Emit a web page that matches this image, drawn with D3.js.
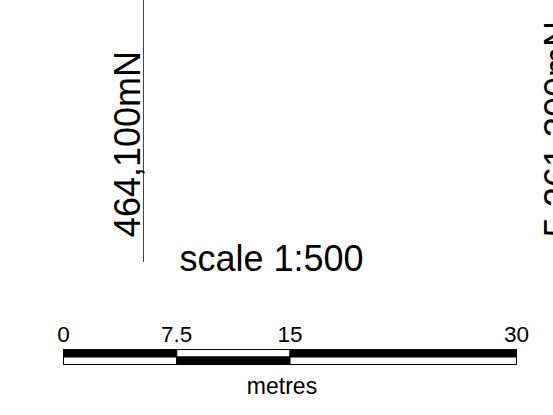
<!DOCTYPE html>
<html>
<head>
<meta charset="utf-8">
<script src="https://cdn.jsdelivr.net/npm/d3@7"></script>
<style>
  body { margin: 0; background: #fff; }
  svg text { font-family: "Liberation Sans", Arial, sans-serif; fill: #000; }
</style>
</head>
<body>
<div id="map"></div>
<script>
// scale bar breaks (metres) and labels
var breaks = [0, 7.5, 15, 30];
var breakLabels = ["0", "7.5", "15", "30"];
var units = "metres";
var scaleText = "scale 1:500";
// grid labels
var eastingLabel = "464,100mN";
var northingLabel = "5,261,300mN";

var width = 553, height = 415;

var svg = d3.select("#map").append("svg")
    .attr("width", width)
    .attr("height", height);

// grid line with its label
svg.append("line")
    .attr("x1", 143.5).attr("x2", 143.5)
    .attr("y1", 0).attr("y2", 262)
    .style("stroke", "#444")
    .style("stroke-width", 1);

svg.append("text")
    .attr("transform", "translate(140,51) rotate(-90)")
    .style("text-anchor", "end")
    .style("font-size", "36px")
    .text(eastingLabel);

// second grid label, cut at the right edge
svg.append("text")
    .attr("transform", "translate(570,21) rotate(-90)")
    .style("text-anchor", "end")
    .style("font-size", "36px")
    .text(northingLabel);

// scale text
svg.append("text")
    .attr("x", 271.5)
    .attr("y", 271)
    .style("text-anchor", "middle")
    .style("font-size", "36px")
    .text(scaleText);

// scale bar
var x = d3.scaleLinear()
    .domain([0, 30])
    .range([63.5, 516.5]);

var barTop = 349.5, rowH = 7.5;
var segs = d3.pairs(breaks);

var bar = svg.append("g").attr("class", "scalebar");

bar.selectAll(".top")
    .data(segs)
    .enter().append("rect")
    .attr("class", "top")
    .attr("x", function(d) { return x(d[0]); })
    .attr("y", barTop)
    .attr("width", function(d) { return x(d[1]) - x(d[0]); })
    .attr("height", rowH)
    .style("fill", function(d, i) { return i % 2 === 0 ? "#000" : "#fff"; })
    .style("stroke", "#000")
    .style("stroke-width", 1);

bar.selectAll(".bottom")
    .data(segs)
    .enter().append("rect")
    .attr("class", "bottom")
    .attr("x", function(d) { return x(d[0]); })
    .attr("y", barTop + rowH)
    .attr("width", function(d) { return x(d[1]) - x(d[0]); })
    .attr("height", rowH)
    .style("fill", function(d, i) { return i % 2 === 0 ? "#fff" : "#000"; })
    .style("stroke", "#000")
    .style("stroke-width", 1);

bar.selectAll(".lab")
    .data(breaks)
    .enter().append("text")
    .attr("class", "lab")
    .attr("x", function(d) { return x(d); })
    .attr("y", 341.5)
    .style("text-anchor", "middle")
    .style("font-size", "22.5px")
    .text(function(d, i) { return breakLabels[i]; });

bar.append("text")
    .attr("x", 282)
    .attr("y", 393.5)
    .style("text-anchor", "middle")
    .style("font-size", "23px")
    .text(units);
</script>
</body>
</html>
